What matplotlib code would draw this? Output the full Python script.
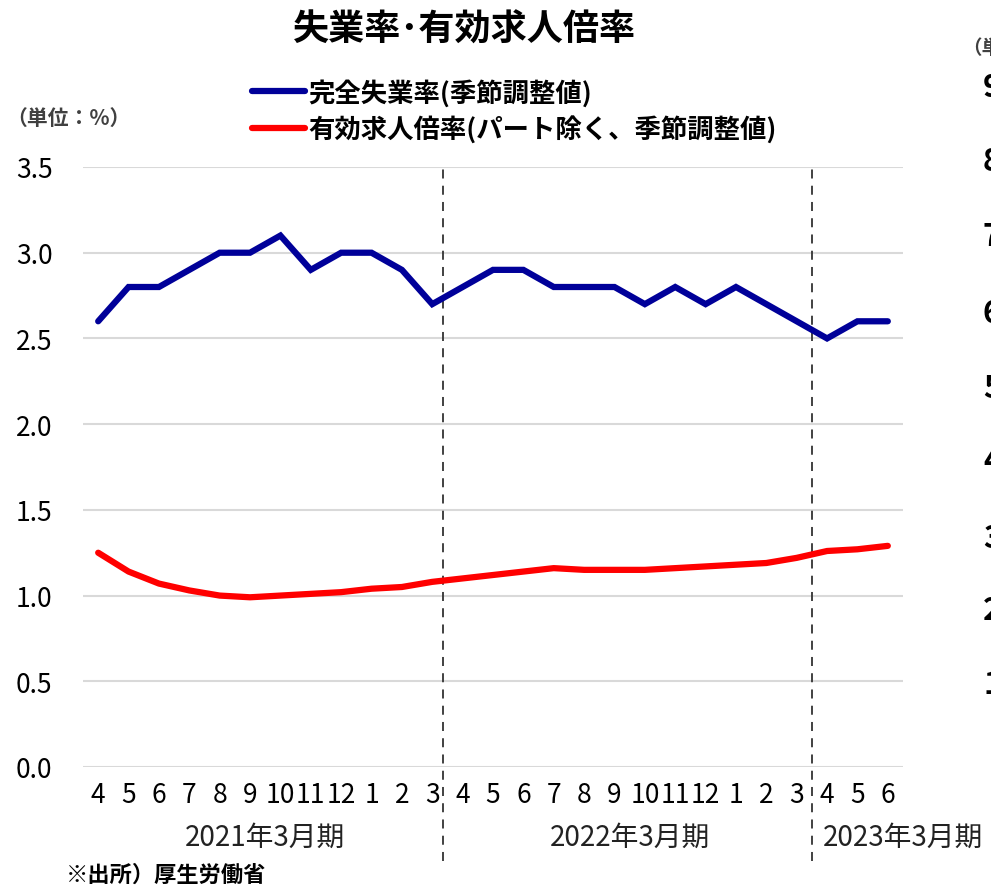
import matplotlib.pyplot as plt
import matplotlib.transforms as mtransforms

# monthly data, Apr 2020 - Jun 2022
months = ['4', '5', '6', '7', '8', '9', '10', '11', '12', '1', '2', '3',
          '4', '5', '6', '7', '8', '9', '10', '11', '12', '1', '2', '3',
          '4', '5', '6']
unemployment = [2.6, 2.8, 2.8, 2.9, 3.0, 3.0, 3.1, 2.9, 3.0, 3.0, 2.9, 2.7,
                2.8, 2.9, 2.9, 2.8, 2.8, 2.8, 2.7, 2.8, 2.7, 2.8, 2.7, 2.6,
                2.5, 2.6, 2.6]
job_ratio = [1.25, 1.14, 1.07, 1.03, 1.00, 0.99, 1.00, 1.01, 1.02, 1.04, 1.05, 1.08,
             1.10, 1.12, 1.14, 1.16, 1.15, 1.15, 1.15, 1.16, 1.17, 1.18, 1.19, 1.22,
             1.26, 1.27, 1.29]
fiscal_years = ['2021年3月期', '2022年3月期', '2023年3月期']
fiscal_centers = [5.5, 17.5, 26.5]
fiscal_breaks = [11.35, 23.5]
yticks = [0.0, 0.5, 1.0, 1.5, 2.0, 2.5, 3.0, 3.5]

narrow = ['Liberation Sans Narrow', 'Noto Sans CJK JP', 'DejaVu Sans']
cjk = ['Noto Sans CJK JP', 'DejaVu Sans']

fig = plt.figure(figsize=(9.91, 8.87), dpi=100)
ax = fig.add_axes([83 / 991, 1 - 768 / 887, 820 / 991, 600 / 887])

x = list(range(len(months)))
ax.plot(x, unemployment, color='#000099', lw=4.5, solid_capstyle='round',
        solid_joinstyle='miter', label='完全失業率(季節調整値)', zorder=3)
ax.plot(x, job_ratio, color='#FF0000', lw=4.5, solid_capstyle='round',
        label='有効求人倍率(パート除く、季節調整値)', zorder=3)

ax.set_xlim(-0.5, len(months) - 0.5)
ax.set_ylim(0, 3.5)
ax.set_yticks(yticks)
ax.set_yticklabels(['%.1f' % v for v in yticks], family=narrow, fontsize=19)
ax.set_xticks(x)
ax.set_xticklabels(months, family=narrow, fontsize=19)
ax.tick_params(axis='x', length=0, pad=10)
ax.tick_params(axis='y', length=0, pad=22)
ax.grid(axis='y', color='#D9D9D9', lw=1.5)
ax.set_axisbelow(True)
for s in ax.spines.values():
    s.set_visible(False)

for b in fiscal_breaks:
    ax.axvline(b, ymin=-0.157, ymax=1, color='#333333', lw=1.3,
               ls=(0, (5, 4)), clip_on=False, zorder=2)

trans = mtransforms.blended_transform_factory(ax.transData, fig.transFigure)
for name, c in zip(fiscal_years, fiscal_centers):
    ax.text(c, 1 - 838 / 887, name, transform=trans, ha='center', va='center',
            family=narrow, fontsize=20, color='#222222')

fig.text(465 / 991, 1 - 30 / 887, '失業率･有効求人倍率', ha='center', va='center',
         family=cjk, fontsize=26, fontweight='bold')
fig.text(6 / 991, 1 - 118 / 887, '（単位：%）', ha='left', va='center',
         family=cjk, fontsize=15, fontweight='bold', color='#404040')
fig.text(66 / 991, 1 - 875 / 887, '※出所）厚生労働省', ha='left', va='center',
         family=cjk, fontsize=16, fontweight='bold')

leg = fig.legend(loc='center left', bbox_to_anchor=(228 / 991, 1 - 112 / 887),
                 frameon=False, handlelength=2.0, handletextpad=0.15,
                 labelspacing=0.35, prop={'family': cjk, 'size': 19, 'weight': 'bold'})

# neighbouring chart, cut off at the right edge
fig.text(962 / 991, 1 - 48 / 887, '（単位', ha='left', va='center',
         family=cjk, fontsize=14, fontweight='bold', color='#404040')
for i, yy in enumerate([88, 162, 237, 314, 389, 462, 539, 611, 685]):
    fig.text(983 / 991, 1 - yy / 887, str(9 - i), ha='left', va='center',
             family=narrow, fontsize=22, fontweight='bold')

fig.savefig('out.png', dpi=100)
